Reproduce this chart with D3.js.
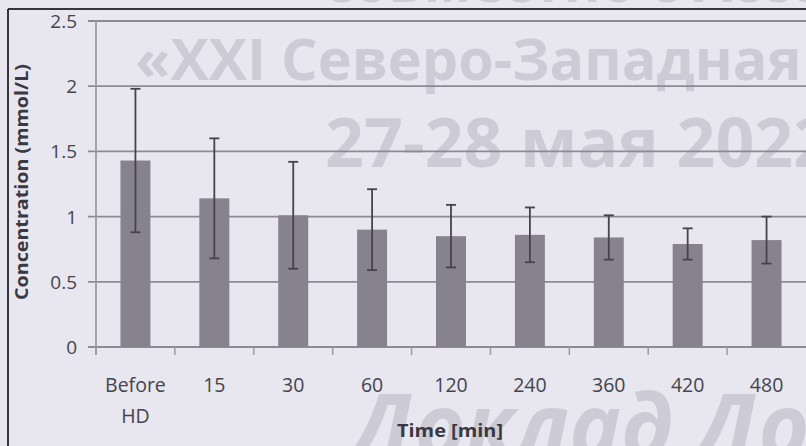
<!DOCTYPE html>
<html>
<head>
<meta charset="utf-8">
<script src="https://cdn.jsdelivr.net/npm/d3@7"></script>
<style>
  html, body { margin: 0; padding: 0; background: #e8e6ef; }
  svg { display: block; font-family: "Open Sans", sans-serif; }
</style>
</head>
<body>
<svg></svg>
<script>
  //Chart data
  const categories = ['Before HD', '15', '30', '60', '120', '240', '360', '420', '480'];
  const means = [1.43, 1.14, 1.01, 0.90, 0.85, 0.86, 0.84, 0.79, 0.82];
  const errors = [0.55, 0.46, 0.41, 0.31, 0.24, 0.21, 0.17, 0.12, 0.18];
  const yTicks = [0, 0.5, 1, 1.5, 2, 2.5];
  const watermarkLines = ['совместно с Ассо', '«XXI Северо-Западная н', '27-28 мая 2022', 'Доклад До'];

  const width = 806;
  const height = 446;

  const svg = d3.select('svg')
    .attr('width', width)
    .attr('height', height);

  //Background
  svg.append('rect')
    .attr('width', width)
    .attr('height', height)
    .attr('fill', '#e8e6ef');

  //Watermark overlay, sits under the chart marks
  const wm = svg.append('g')
    .attr('fill', '#8f8d99')
    .attr('fill-opacity', 0.3)
    .attr('font-weight', 700);
  const wmPos = [
    { x: 325, y: 2, size: 56, italic: false },
    { x: 135, y: 80, size: 57.5, italic: false },
    { x: 325, y: 167, size: 68, italic: false },
    { x: 352, y: 457, size: 87, italic: true },
  ];
  wm.selectAll('text')
    .data(watermarkLines)
    .enter().append('text')
    .attr('x', (d, i) => wmPos[i].x)
    .attr('y', (d, i) => wmPos[i].y)
    .attr('font-size', (d, i) => wmPos[i].size)
    .attr('font-style', (d, i) => wmPos[i].italic ? 'italic' : 'normal')
    .text(d => d);

  //Scales
  const y = d3.scaleLinear().domain([0, 2.5]).range([347, 21]);
  const x = d3.scaleBand()
    .domain(categories)
    .range([96, 806])
    .paddingInner(0.62)
    .paddingOuter(0.31);
  const step = x.step();

  //Gridlines and y ticks
  const grid = svg.append('g');
  grid.selectAll('line.grid')
    .data(yTicks)
    .enter().append('line')
    .attr('class', 'grid')
    .attr('x1', 88)
    .attr('x2', width)
    .attr('y1', d => y(d))
    .attr('y2', d => y(d))
    .attr('stroke', '#8c8a95')
    .attr('stroke-width', 1.8);

  //Vertical axis line
  grid.append('line')
    .attr('x1', 96).attr('x2', 96)
    .attr('y1', y(2.5)).attr('y2', y(0) + 8)
    .attr('stroke', '#9c9aa5')
    .attr('stroke-width', 1.8);

  //Category boundary ticks under the x axis
  grid.selectAll('line.xtick')
    .data(d3.range(categories.length))
    .enter().append('line')
    .attr('class', 'xtick')
    .attr('x1', i => 96 + i * step)
    .attr('x2', i => 96 + i * step)
    .attr('y1', y(0))
    .attr('y2', y(0) + 8)
    .attr('stroke', '#9c9aa5')
    .attr('stroke-width', 1.5);

  //Bars
  const barData = categories.map((c, i) => ({ cat: c, mean: means[i], err: errors[i] }));
  svg.append('g')
    .selectAll('rect')
    .data(barData)
    .enter().append('rect')
    .attr('x', d => x(d.cat))
    .attr('y', d => y(d.mean))
    .attr('width', x.bandwidth())
    .attr('height', d => y(0) - y(d.mean))
    .attr('fill', '#86838f');

  //Error bars
  const errG = svg.append('g')
    .attr('stroke', '#45444e')
    .attr('stroke-width', 1.8);
  const cx = d => x(d.cat) + x.bandwidth() / 2;
  errG.selectAll('line.stem')
    .data(barData)
    .enter().append('line')
    .attr('x1', cx).attr('x2', cx)
    .attr('y1', d => y(d.mean + d.err))
    .attr('y2', d => y(d.mean - d.err));
  errG.selectAll('line.capTop')
    .data(barData)
    .enter().append('line')
    .attr('x1', d => cx(d) - 5).attr('x2', d => cx(d) + 5)
    .attr('y1', d => y(d.mean + d.err))
    .attr('y2', d => y(d.mean + d.err));
  errG.selectAll('line.capBottom')
    .data(barData)
    .enter().append('line')
    .attr('x1', d => cx(d) - 5).attr('x2', d => cx(d) + 5)
    .attr('y1', d => y(d.mean - d.err))
    .attr('y2', d => y(d.mean - d.err));

  //Y tick labels
  svg.append('g')
    .selectAll('text')
    .data(yTicks)
    .enter().append('text')
    .attr('x', 77)
    .attr('y', d => y(d) + 7)
    .attr('text-anchor', 'end')
    .attr('font-size', 19)
    .attr('fill', '#45444d')
    .text(d => d);

  //X tick labels (Before HD splits in two lines)
  const xLabels = svg.append('g')
    .selectAll('text')
    .data(categories)
    .enter().append('text')
    .attr('x', d => x(d) + x.bandwidth() / 2)
    .attr('y', 392)
    .attr('text-anchor', 'middle')
    .attr('font-size', 19.5)
    .attr('fill', '#45444d');
  xLabels.each(function (d) {
    const parts = d.split(' ');
    const t = d3.select(this);
    parts.forEach((p, i) => {
      t.append('tspan')
        .attr('x', x(d) + x.bandwidth() / 2)
        .attr('dy', i === 0 ? 0 : 31)
        .text(p);
    });
  });

  //Axis titles
  svg.append('text')
    .attr('x', 450)
    .attr('y', 437)
    .attr('text-anchor', 'middle')
    .attr('font-size', 18)
    .attr('font-weight', 700)
    .attr('fill', '#3a3942')
    .attr('textLength', 106)
    .attr('lengthAdjust', 'spacingAndGlyphs')
    .text('Time [min]');

  svg.append('text')
    .attr('transform', 'translate(28,182) rotate(-90)')
    .attr('text-anchor', 'middle')
    .attr('font-size', 17)
    .attr('font-weight', 700)
    .attr('fill', '#3a3942')
    .attr('textLength', 236)
    .attr('lengthAdjust', 'spacingAndGlyphs')
    .text('Concentration (mmol/L)');

  //Outer frame
  svg.append('line')
    .attr('x1', 8).attr('x2', 8)
    .attr('y1', 9).attr('y2', height)
    .attr('stroke', '#36353f').attr('stroke-width', 2);
  svg.append('line')
    .attr('x1', 8).attr('x2', width)
    .attr('y1', 9).attr('y2', 9)
    .attr('stroke', '#36353f').attr('stroke-width', 2);
</script>
</body>
</html>
